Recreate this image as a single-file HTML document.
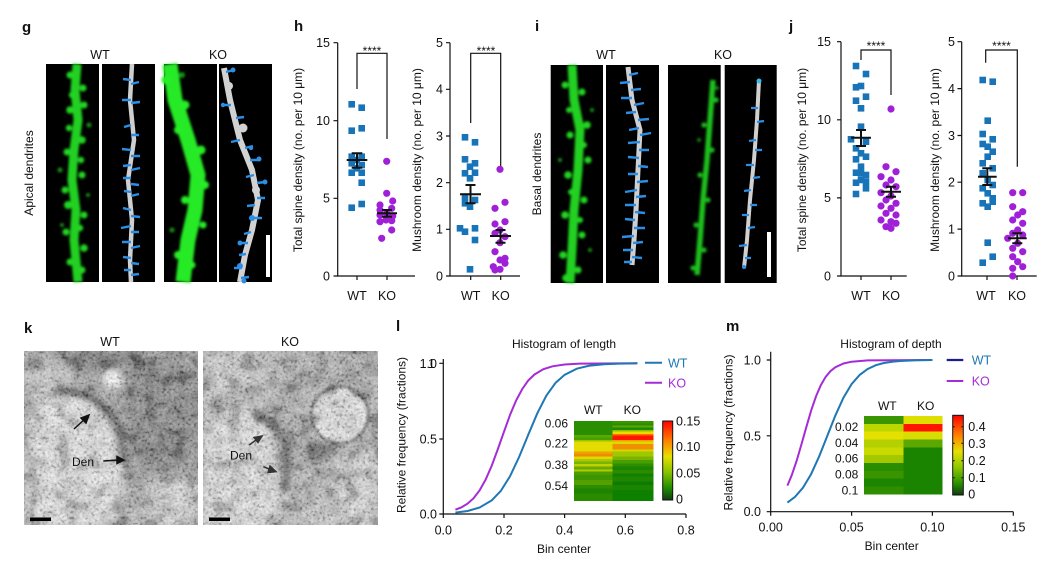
<!DOCTYPE html>
<html><head><meta charset="utf-8"><style>
html,body{margin:0;padding:0;background:#fff;}
svg{display:block;}
text{font-family:"Liberation Sans",Arial,sans-serif;fill:#111;}
</style></head><body>
<svg width="1063" height="565" viewBox="0 0 1063 565" xmlns="http://www.w3.org/2000/svg">
<defs>
<filter id="b1" x="-20%" y="-20%" width="140%" height="140%"><feGaussianBlur stdDeviation="1.2"/></filter>
<filter id="b3" x="-30%" y="-30%" width="160%" height="160%"><feGaussianBlur stdDeviation="3"/></filter>
<filter id="b6" x="-30%" y="-30%" width="160%" height="160%"><feGaussianBlur stdDeviation="6"/></filter>
<filter id="nz" x="0" y="0" width="100%" height="100%">
<feTurbulence type="fractalNoise" baseFrequency="0.35" numOctaves="2" seed="4"/>
<feColorMatrix type="matrix" values="1.2 1.2 1.2 0 -1.3  1.2 1.2 1.2 0 -1.3  1.2 1.2 1.2 0 -1.3  0 0 0 0 0.25"/>
</filter>
<filter id="nz2" x="0" y="0" width="100%" height="100%">
<feTurbulence type="fractalNoise" baseFrequency="0.07" numOctaves="2" seed="9"/>
<feColorMatrix type="matrix" values="1.5 1.5 1.5 0 -1.75  1.5 1.5 1.5 0 -1.75  1.5 1.5 1.5 0 -1.75  0 0 0 0 0.25"/>
</filter>
<clipPath id="cw"><rect x="24" y="351" width="174" height="174"/></clipPath>
<clipPath id="ck"><rect x="203" y="351" width="175" height="174"/></clipPath>
<linearGradient id="cb1" x1="0" y1="0" x2="0" y2="1">
<stop offset="0" stop-color="#ff0000"/><stop offset="0.25" stop-color="#ff8000"/><stop offset="0.45" stop-color="#e6e000"/><stop offset="0.65" stop-color="#86c200"/><stop offset="0.85" stop-color="#1e8c00"/><stop offset="1" stop-color="#123c12"/>
</linearGradient>
<linearGradient id="cb2" x1="0" y1="0" x2="0" y2="1">
<stop offset="0" stop-color="#ff0000"/><stop offset="0.25" stop-color="#ff8000"/><stop offset="0.45" stop-color="#e6e000"/><stop offset="0.65" stop-color="#90c800"/><stop offset="0.85" stop-color="#2a9400"/><stop offset="1" stop-color="#103c10"/>
</linearGradient>
</defs>

<!-- ============ Panel g ============ -->
<text x="22" y="32" font-size="15" font-weight="bold">g</text>
<text x="100" y="59" font-size="12.5" text-anchor="middle">WT</text>
<text x="218" y="59" font-size="12.5" text-anchor="middle">KO</text>
<text transform="translate(33,173) rotate(-90)" font-size="12" text-anchor="middle">Apical dendrites</text>
<rect x="46" y="64" width="53" height="218" fill="#000"/>
<rect x="102" y="64" width="53" height="218" fill="#000"/>
<rect x="164" y="64" width="53" height="218" fill="#000"/>
<rect x="219" y="64" width="53" height="218" fill="#000"/>
<g filter="url(#b1)" fill="#22d622">
<path d="M77 64 L75 90 L78 120 L74 150 L72 180 L76 210 L74 240 L78 282" stroke="#20d020" stroke-width="9" fill="none"/>
<circle cx="70" cy="75" r="3.5"/><circle cx="83" cy="88" r="3.5"/><circle cx="70" cy="110" r="3.8"/><circle cx="84" cy="105" r="3.5"/>
<circle cx="67" cy="152" r="3.5"/><circle cx="82" cy="140" r="3.8"/><circle cx="65" cy="190" r="3.5"/><circle cx="82" cy="175" r="3.5"/>
<circle cx="68" cy="205" r="4"/><circle cx="84" cy="215" r="3.5"/><circle cx="66" cy="232" r="3.5"/><circle cx="84" cy="248" r="3.8"/>
<circle cx="70" cy="262" r="3.5"/><circle cx="82" cy="270" r="3.5"/><circle cx="69" cy="128" r="3.2"/><circle cx="81" cy="160" r="3.2"/>
<circle cx="80" cy="228" r="3.2"/><circle cx="72" cy="95" r="3.2"/>
<circle cx="60" cy="170" r="2.5" fill="#159015"/><circle cx="89" cy="125" r="2.5" fill="#159015"/><circle cx="62" cy="225" r="2" fill="#159015"/><circle cx="88" cy="195" r="2" fill="#159015"/>
</g>
<path d="M132 64 L130 100 L134 140 L128 180 L132 220 L130 260 L131 282" stroke="#cfcfcf" stroke-width="4.5" fill="none"/>
<path d="M131 80 l-8 -1 M131 84 l8 -2 M131 100 l-9 0 M131 103 l9 -1 M131 125 l-7 2 M131 135 l8 0 M131 150 l-9 -1 M131 156 l9 0 M131 165 l-8 1 M131 170 l9 -2 M131 178 l-8 0 M131 184 l8 1 M131 192 l-7 -1 M131 196 l8 -2 M131 210 l-8 -2 M131 216 l9 1 M131 226 l-10 2 M131 232 l8 0 M131 242 l-9 0 M131 248 l9 -2 M131 258 l-8 -1 M131 263 l8 1 M131 270 l-7 0 M131 275 l8 -1" stroke="#2b8fe6" stroke-width="2.4" fill="none"/>
<g filter="url(#b1)" fill="#28ee28">
<path d="M170 64 L175 100 L188 140 L198 175 L195 210 L188 240 L183 282" stroke="#26ea26" stroke-width="15" fill="none"/>
<circle cx="166" cy="80" r="4.5"/><circle cx="185" cy="105" r="4.5"/><circle cx="178" cy="130" r="4"/><circle cx="201" cy="150" r="4.5"/>
<circle cx="205" cy="185" r="4"/><circle cx="185" cy="200" r="4"/><circle cx="203" cy="225" r="3.5"/><circle cx="178" cy="255" r="4"/>
<circle cx="192" cy="265" r="3.5"/><circle cx="172" cy="230" r="2.5" fill="#149014"/><circle cx="182" cy="75" r="3" fill="#149014"/>
</g>
<path d="M224 68 L230 100 L240 140 L252 170 L258 200 L252 230 L245 255 L240 282" stroke="#d2d2d2" stroke-width="6" fill="none"/>
<circle cx="229" cy="86" r="4" fill="#d2d2d2"/><circle cx="243" cy="128" r="4.5" fill="#d2d2d2"/><circle cx="256" cy="190" r="4" fill="#d2d2d2"/>
<path d="M226 72 l8 -2 M231 105 l-8 0 M236 118 l8 -1 M240 140 l-9 2 M245 148 l8 -2 M250 160 l9 0 M254 175 l-8 2 M257 183 l8 -1 M257 198 l8 0 M255 205 l-8 1 M254 218 l8 0 M251 232 l-7 2 M248 243 l-8 0 M246 254 l-7 1 M242 268 l-8 0 M241 278 l8 -1" stroke="#2b8fe6" stroke-width="2.4" fill="none"/>
<g fill="#2b8fe6"><circle cx="233" cy="70" r="2.5"/><circle cx="223" cy="105" r="2.2"/><circle cx="251" cy="148" r="2.2"/><circle cx="259" cy="159" r="2.5"/><circle cx="265" cy="182" r="2.5"/><circle cx="252" cy="218" r="3"/><circle cx="240" cy="243" r="2.5"/><circle cx="240" cy="266" r="3"/><circle cx="244" cy="281" r="2.5"/></g>
<rect x="266" y="235" width="4" height="42" fill="#fff"/>

<!-- ============ Panel h ============ -->
<text x="294" y="31" font-size="15" font-weight="bold">h</text>
<g stroke="#111" stroke-width="1.2" fill="none">
<path d="M337.7 42.7 V276 H415"/>
<path d="M333.5 42.7 H337.7 M333.5 120.7 H337.7 M333.5 198.3 H337.7 M333.5 276 H337.7"/>
<path d="M357 276 V280 M387 276 V280"/>
<path d="M357 89 V53.3 H387 V139"/>
<path d="M450 42.7 V276 H520"/>
<path d="M446 42.7 H450 M446 89.3 H450 M446 136 H450 M446 182.7 H450 M446 229.3 H450 M446 276 H450"/>
<path d="M470.7 276 V280 M500.7 276 V280"/>
<path d="M470.7 123 V53.3 H500.7 V167"/>
</g>
<g font-size="12.5" text-anchor="end">
<text x="330" y="47">15</text><text x="330" y="125">10</text><text x="330" y="202.5">5</text><text x="330" y="280.5">0</text>
<text x="443" y="47">5</text><text x="443" y="93.5">4</text><text x="443" y="140.5">3</text><text x="443" y="187">2</text><text x="443" y="233.5">1</text><text x="443" y="280.5">0</text>
</g>
<g font-size="12.5" text-anchor="middle">
<text x="357" y="300">WT</text><text x="387" y="300">KO</text>
<text x="470.7" y="300">WT</text><text x="500.7" y="300">KO</text>
</g>
<text x="372" y="55" font-size="12" text-anchor="middle">****</text>
<text x="486" y="55" font-size="12" text-anchor="middle">****</text>
<text transform="translate(302,160) rotate(-90)" font-size="12" text-anchor="middle">Total spine density (no. per 10 μm)</text>
<text transform="translate(421,160) rotate(-90)" font-size="12" text-anchor="middle">Mushroom density (no. per 10 μm)</text>
<g fill="#1874b8">
<rect x="348.4" y="101" width="6.6" height="6.6"/><rect x="358.4" y="104.4" width="6.6" height="6.6"/><rect x="348.4" y="127.4" width="6.6" height="6.6"/><rect x="358.4" y="125" width="6.6" height="6.6"/>
<rect x="348.4" y="153.4" width="6.6" height="6.6"/><rect x="358.4" y="153.4" width="6.6" height="6.6"/><rect x="348.4" y="160" width="6.6" height="6.6"/><rect x="358.4" y="161.7" width="6.6" height="6.6"/>
<rect x="348.4" y="169.4" width="6.6" height="6.6"/><rect x="358.4" y="169.4" width="6.6" height="6.6"/><rect x="358.4" y="179.4" width="6.6" height="6.6"/><rect x="348.4" y="204.4" width="6.6" height="6.6"/>
<rect x="358.4" y="200.7" width="6.6" height="6.6"/><rect x="353.4" y="156.7" width="6.6" height="6.6"/><rect x="353.4" y="165" width="6.6" height="6.6"/>
</g>
<g fill="#a020d8">
<circle cx="386.7" cy="161.3" r="3.6"/><circle cx="386.7" cy="193.3" r="3.6"/><circle cx="392.7" cy="201" r="3.6"/><circle cx="380" cy="205" r="3.6"/><circle cx="380" cy="210" r="3.6"/>
<circle cx="391.7" cy="208.3" r="3.6"/><circle cx="386.7" cy="213.3" r="3.6"/><circle cx="380" cy="215" r="3.6"/><circle cx="392.7" cy="216" r="3.6"/><circle cx="386" cy="220" r="3.6"/>
<circle cx="391.7" cy="220.7" r="3.6"/><circle cx="380" cy="221.7" r="3.6"/><circle cx="391.7" cy="230" r="3.6"/><circle cx="381.7" cy="238.3" r="3.6"/>
</g>
<g fill="#1874b8">
<rect x="461.7" y="134" width="6.6" height="6.6"/><rect x="471.7" y="139" width="6.6" height="6.6"/><rect x="461.7" y="156" width="6.6" height="6.6"/><rect x="471.7" y="160" width="6.6" height="6.6"/>
<rect x="466.7" y="163.4" width="6.6" height="6.6"/><rect x="471.7" y="169.4" width="6.6" height="6.6"/><rect x="461.7" y="170" width="6.6" height="6.6"/><rect x="466.7" y="175" width="6.6" height="6.6"/>
<rect x="461.7" y="193.4" width="6.6" height="6.6"/><rect x="471.7" y="196.7" width="6.6" height="6.6"/><rect x="461.7" y="200" width="6.6" height="6.6"/><rect x="466.7" y="203.4" width="6.6" height="6.6"/>
<rect x="456.7" y="225" width="6.6" height="6.6"/><rect x="461.7" y="228.4" width="6.6" height="6.6"/><rect x="471.7" y="225" width="6.6" height="6.6"/><rect x="471.7" y="236.7" width="6.6" height="6.6"/>
<rect x="466.7" y="266" width="6.6" height="6.6"/>
</g>
<g fill="#a020d8">
<circle cx="500" cy="169.3" r="3.6"/><circle cx="505" cy="202.3" r="3.6"/><circle cx="495" cy="208.3" r="3.6"/><circle cx="505" cy="221.7" r="3.6"/><circle cx="495" cy="224" r="3.6"/>
<circle cx="500" cy="230" r="3.6"/><circle cx="495" cy="233.3" r="3.6"/><circle cx="505" cy="236.7" r="3.6"/><circle cx="500" cy="242.7" r="3.6"/><circle cx="495" cy="251.7" r="3.6"/>
<circle cx="500" cy="260" r="3.6"/><circle cx="505" cy="263.3" r="3.6"/><circle cx="493.3" cy="266.7" r="3.6"/><circle cx="500" cy="269.3" r="3.6"/><circle cx="495" cy="270" r="3.6"/><circle cx="505" cy="258.3" r="3.6"/>
</g>
<g stroke="#111" stroke-width="2" fill="none">
<path d="M346.7 160 H367.3 M357 153.3 V167.7 M351.7 153.3 H362.3 M351.7 167.7 H362.3"/>
<path d="M377 213.3 H397 M387 210 V216.7 M382 210 H392 M382 216.7 H392"/>
<path d="M460 194.3 H481 M470.5 185 V203.3 M465.5 185 H475.5 M465.5 203.3 H475.5"/>
<path d="M490 236 H511 M500.5 230 V242.7 M495.5 230 H505.5 M495.5 242.7 H505.5"/>
</g>

<!-- ============ Panel i ============ -->
<text x="535" y="31" font-size="15" font-weight="bold">i</text>
<text x="606" y="59" font-size="12.5" text-anchor="middle">WT</text>
<text x="723" y="59" font-size="12.5" text-anchor="middle">KO</text>
<text transform="translate(541,174) rotate(-90)" font-size="12" text-anchor="middle">Basal dendrites</text>
<rect x="550.7" y="65" width="52.3" height="218" fill="#000"/>
<rect x="606" y="65" width="53" height="218" fill="#000"/>
<rect x="668" y="65" width="52.7" height="218" fill="#000"/>
<rect x="724.7" y="65" width="52" height="218" fill="#000"/>
<g filter="url(#b1)" fill="#22d622">
<path d="M572 65 L574 100 L580 130 L578 170 L574 210 L572 250 L570 283" stroke="#20d020" stroke-width="9" fill="none"/>
<circle cx="565" cy="85" r="3.5"/><circle cx="582" cy="92" r="3.5"/><circle cx="587" cy="125" r="3.8"/><circle cx="570" cy="135" r="3.5"/>
<circle cx="588" cy="160" r="3.5"/><circle cx="568" cy="175" r="3.8"/><circle cx="584" cy="200" r="3.5"/><circle cx="565" cy="215" r="3.8"/>
<circle cx="582" cy="235" r="3.5"/><circle cx="563" cy="255" r="3.8"/><circle cx="578" cy="270" r="3.5"/><circle cx="566" cy="278" r="3.8"/>
<circle cx="569" cy="110" r="3"/><circle cx="584" cy="145" r="3"/><circle cx="571" cy="192" r="3"/><circle cx="580" cy="220" r="3"/>
<circle cx="592" cy="110" r="2" fill="#159015"/><circle cx="560" cy="160" r="2" fill="#159015"/><circle cx="590" cy="250" r="2" fill="#159015"/>
</g>
<path d="M628 67 L632 100 L640 130 L638 170 L636 210 L634 240 L632 265" stroke="#d0d0d0" stroke-width="5" fill="none"/>
<path d="M629 75 l9 -2 M630 82 l-10 1 M631 90 l10 -1 M632 98 l-11 0 M634 105 l10 -2 M636 112 l-10 1 M638 120 l11 -1 M639 128 l-10 2 M640 135 l11 -2 M640 142 l-12 1 M639 150 l10 0 M639 158 l-11 -1 M638 166 l10 1 M638 174 l-10 0 M637 182 l11 -1 M637 190 l-12 2 M636 197 l10 -1 M636 205 l-11 0 M635 212 l10 1 M635 220 l-10 -1 M634 228 l11 0 M634 236 l-12 1 M633 243 l10 -1 M633 250 l-10 0 M632 257 l10 1 M632 262 l-8 0" stroke="#2b8fe6" stroke-width="2.4" fill="none"/>
<g filter="url(#b1)" fill="#1cbc1c">
<path d="M713 80 L710 120 L707 160 L703 200 L700 240 L697 275" stroke="#1cc01c" stroke-width="5.5" fill="none"/>
<circle cx="716" cy="100" r="2.6"/><circle cx="704" cy="125" r="2.6"/><circle cx="712" cy="150" r="2.6"/><circle cx="700" cy="175" r="2.6"/>
<circle cx="708" cy="200" r="2.6"/><circle cx="696" cy="225" r="2.6"/><circle cx="704" cy="250" r="2.6"/><circle cx="693" cy="268" r="2.6"/>
<circle cx="717" cy="88" r="2" fill="#128012"/><circle cx="699" cy="140" r="2" fill="#128012"/>
</g>
<path d="M759 80 L757 120 L754 160 L750 200 L747 240 L744 268" stroke="#d0d0d0" stroke-width="4" fill="none"/>
<path d="M758 108 l-7 0 M757 122 l7 -1 M756 140 l-7 1 M755 150 l7 0 M754 165 l-8 0 M753 178 l7 -1 M751 190 l-7 1 M750 205 l7 0 M749 215 l-7 0 M748 228 l7 -1 M747 245 l-8 1 M745 258 l6 0" stroke="#2b8fe6" stroke-width="2.2" fill="none"/>
<circle cx="759" cy="81" r="2.5" fill="#3ab8f0"/><circle cx="744" cy="267" r="2" fill="#2b8fe6"/>
<rect x="767" y="232" width="4" height="45" fill="#fff"/>

<!-- ============ Panel j ============ -->
<text x="789" y="31" font-size="15" font-weight="bold">j</text>
<g stroke="#111" stroke-width="1.2" fill="none">
<path d="M841 41.7 V276 H906.7"/>
<path d="M837 41.7 H841 M837 119.8 H841 M837 197.9 H841 M837 276 H841"/>
<path d="M861 276 V280 M891 276 V280"/>
<path d="M861 60 V50 H891 V95"/>
<path d="M961.7 41.7 V276 H1036.7"/>
<path d="M957.5 41.7 H961.7 M957.5 88.6 H961.7 M957.5 135.5 H961.7 M957.5 182.2 H961.7 M957.5 229.1 H961.7 M957.5 276 H961.7"/>
<path d="M987 276 V280 M1017 276 V280"/>
<path d="M985.7 62.7 V50 H1017.3 V166.7"/>
</g>
<g font-size="12.5" text-anchor="end">
<text x="831" y="46">15</text><text x="831" y="124">10</text><text x="831" y="202">5</text><text x="831" y="280.5">0</text>
<text x="955" y="46">5</text><text x="955" y="93">4</text><text x="955" y="140">3</text><text x="955" y="186.5">2</text><text x="955" y="233.5">1</text><text x="955" y="280.5">0</text>
</g>
<g font-size="12.5" text-anchor="middle">
<text x="861" y="300">WT</text><text x="891" y="300">KO</text>
<text x="986" y="300">WT</text><text x="1017" y="300">KO</text>
</g>
<text x="876" y="50" font-size="12" text-anchor="middle">****</text>
<text x="1001.5" y="50" font-size="12" text-anchor="middle">****</text>
<text transform="translate(806,160) rotate(-90)" font-size="12" text-anchor="middle">Total spine density (no. per 10 μm)</text>
<text transform="translate(939,160) rotate(-90)" font-size="12" text-anchor="middle">Mushroom density (no. per 10 μm)</text>
<g fill="#1874b8">
<rect x="852.7" y="62.7" width="6.6" height="6.6"/><rect x="862.7" y="70.7" width="6.6" height="6.6"/><rect x="852.7" y="84" width="6.6" height="6.6"/><rect x="857.7" y="82.7" width="6.6" height="6.6"/>
<rect x="862.7" y="93.4" width="6.6" height="6.6"/><rect x="852.7" y="97.4" width="6.6" height="6.6"/><rect x="857.7" y="105" width="6.6" height="6.6"/><rect x="857.7" y="123.4" width="6.6" height="6.6"/>
<rect x="847.7" y="136" width="6.6" height="6.6"/><rect x="862.7" y="138.4" width="6.6" height="6.6"/><rect x="852.7" y="145" width="6.6" height="6.6"/><rect x="857.7" y="150" width="6.6" height="6.6"/>
<rect x="862.7" y="153.4" width="6.6" height="6.6"/><rect x="852.7" y="156" width="6.6" height="6.6"/><rect x="857.7" y="163.4" width="6.6" height="6.6"/><rect x="852.7" y="169.4" width="6.6" height="6.6"/>
<rect x="862.7" y="171.7" width="6.6" height="6.6"/><rect x="857.7" y="176.7" width="6.6" height="6.6"/><rect x="852.7" y="179.4" width="6.6" height="6.6"/><rect x="862.7" y="178.4" width="6.6" height="6.6"/>
<rect x="862.7" y="185" width="6.6" height="6.6"/><rect x="852.7" y="190.7" width="6.6" height="6.6"/><rect x="857.7" y="170" width="6.6" height="6.6"/>
</g>
<g fill="#a020d8">
<circle cx="891" cy="109" r="3.6"/><circle cx="886" cy="166.7" r="3.6"/><circle cx="896" cy="171.7" r="3.6"/><circle cx="881" cy="176.7" r="3.6"/><circle cx="891" cy="180" r="3.6"/>
<circle cx="886" cy="185" r="3.6"/><circle cx="896" cy="186.7" r="3.6"/><circle cx="881" cy="192.7" r="3.6"/><circle cx="891" cy="196" r="3.6"/><circle cx="886" cy="200" r="3.6"/>
<circle cx="896" cy="203.3" r="3.6"/><circle cx="881" cy="206" r="3.6"/><circle cx="891" cy="208.3" r="3.6"/><circle cx="886" cy="213.3" r="3.6"/><circle cx="896" cy="215" r="3.6"/>
<circle cx="881" cy="220" r="3.6"/><circle cx="891" cy="221.7" r="3.6"/><circle cx="886" cy="226.7" r="3.6"/><circle cx="896" cy="223.3" r="3.6"/><circle cx="891" cy="228.3" r="3.6"/>
</g>
<g fill="#1874b8">
<rect x="979.4" y="76.7" width="6.6" height="6.6"/><rect x="989.4" y="78.4" width="6.6" height="6.6"/><rect x="984.4" y="117.4" width="6.6" height="6.6"/><rect x="979.4" y="130.7" width="6.6" height="6.6"/>
<rect x="989.4" y="136" width="6.6" height="6.6"/><rect x="979.4" y="140.7" width="6.6" height="6.6"/><rect x="984.4" y="143.4" width="6.6" height="6.6"/><rect x="989.4" y="148.4" width="6.6" height="6.6"/>
<rect x="984.4" y="153.4" width="6.6" height="6.6"/><rect x="979.4" y="160" width="6.6" height="6.6"/><rect x="989.4" y="165" width="6.6" height="6.6"/><rect x="979.4" y="170" width="6.6" height="6.6"/>
<rect x="984.4" y="176.7" width="6.6" height="6.6"/><rect x="989.4" y="181.7" width="6.6" height="6.6"/><rect x="979.4" y="185" width="6.6" height="6.6"/><rect x="984.4" y="190" width="6.6" height="6.6"/>
<rect x="989.4" y="195" width="6.6" height="6.6"/><rect x="979.4" y="200" width="6.6" height="6.6"/><rect x="984.4" y="203.4" width="6.6" height="6.6"/><rect x="989.4" y="198.4" width="6.6" height="6.6"/>
<rect x="984.4" y="239.4" width="6.6" height="6.6"/><rect x="989.4" y="253.4" width="6.6" height="6.6"/><rect x="979.4" y="259.4" width="6.6" height="6.6"/>
</g>
<g fill="#a020d8">
<circle cx="1012.7" cy="192.7" r="3.6"/><circle cx="1022.7" cy="192.7" r="3.6"/><circle cx="1012.7" cy="206.7" r="3.6"/><circle cx="1022.7" cy="211.7" r="3.6"/><circle cx="1017.7" cy="215" r="3.6"/>
<circle cx="1012.7" cy="220" r="3.6"/><circle cx="1022.7" cy="223.3" r="3.6"/><circle cx="1017.7" cy="230" r="3.6"/><circle cx="1012.7" cy="233.3" r="3.6"/><circle cx="1022.7" cy="235" r="3.6"/>
<circle cx="1007.7" cy="238.3" r="3.6"/><circle cx="1017.7" cy="243.3" r="3.6"/><circle cx="1012.7" cy="248.3" r="3.6"/><circle cx="1022.7" cy="251.7" r="3.6"/><circle cx="1012.7" cy="256.7" r="3.6"/>
<circle cx="1017.7" cy="261.7" r="3.6"/><circle cx="1022.7" cy="266.7" r="3.6"/><circle cx="1012.7" cy="268.3" r="3.6"/><circle cx="1012.7" cy="276" r="3.6"/>
</g>
<g stroke="#111" stroke-width="2" fill="none">
<path d="M851 137.7 H871 M861 130 V146 M856 130 H866 M856 146 H866"/>
<path d="M881 191.7 H901 M891 186.7 V196.7 M886 186.7 H896 M886 196.7 H896"/>
<path d="M978 176.7 H996.7 M987.3 168.3 V185 M982.3 168.3 H992.3 M982.3 185 H992.3"/>
<path d="M1008 238.3 H1026.7 M1017.3 233.3 V243.3 M1012.3 233.3 H1022.3 M1012.3 243.3 H1022.3"/>
</g>

<!-- ============ Panel k ============ -->
<text x="24" y="333" font-size="15" font-weight="bold">k</text>
<text x="110" y="346" font-size="12.5" text-anchor="middle">WT</text>
<text x="290" y="346" font-size="12.5" text-anchor="middle">KO</text>
<g clip-path="url(#cw)">
<rect x="24" y="351" width="174" height="174" fill="#929292"/>
<g filter="url(#b6)">
<rect x="24" y="360" width="50" height="40" fill="#b8b8b8"/>
<ellipse cx="165" cy="415" rx="42" ry="62" fill="#6c6c6c"/>
<path d="M60 352 L150 352 L140 366 L70 366 Z" fill="#444"/>
<path d="M30 420 L45 395 L70 388 L95 400 L115 430 L125 470 L122 500 L110 530 L24 530 L24 440 Z" fill="#e0e0e0"/>
<rect x="150" y="478" width="50" height="50" fill="#cecece"/>
<rect x="125" y="505" width="30" height="25" fill="#b4b4b4"/>
</g>
<g filter="url(#b3)">
<ellipse cx="112" cy="380" rx="9" ry="12" fill="#f0f0f0"/>
<path d="M52 392 Q95 385 118 425 L128 470" stroke="#262626" stroke-width="7" fill="none"/>
<path d="M24 440 Q40 470 30 525" stroke="#6a6a6a" stroke-width="3" fill="none"/>
<path d="M60 480 Q80 500 70 525" stroke="#8a8a8a" stroke-width="3" fill="none"/>
</g>
<rect x="24" y="351" width="174" height="174" filter="url(#nz2)"/>
<rect x="24" y="351" width="174" height="174" filter="url(#nz)"/>
</g>
<g clip-path="url(#ck)">
<rect x="203" y="351" width="175" height="174" fill="#a0a0a0"/>
<g filter="url(#b6)">
<rect x="203" y="351" width="70" height="50" fill="#c0c0c0"/>
<path d="M210 420 L235 405 L255 410 L275 440 L285 480 L280 510 L260 530 L203 530 L203 440 Z" fill="#dcdcdc"/>
<rect x="332" y="455" width="50" height="75" fill="#cccccc"/>
<rect x="280" y="500" width="50" height="30" fill="#bcbcbc"/>
</g>
<circle cx="340" cy="415" r="28" fill="#e4e4e4" stroke="#3c3c3c" stroke-width="3" filter="url(#b1)"/>
<g filter="url(#b3)">
<circle cx="318" cy="452" r="11" fill="#404040"/>
<path d="M252 412 Q286 425 288 462 L284 492" stroke="#222" stroke-width="7" fill="none"/>
<path d="M210 400 Q260 385 310 385 Q340 375 378 372" stroke="#606060" stroke-width="3" fill="none"/>
<path d="M325 470 Q345 480 378 470" stroke="#6a6a6a" stroke-width="2.5" fill="none"/>
</g>
<rect x="203" y="351" width="175" height="174" filter="url(#nz2)"/>
<rect x="203" y="351" width="175" height="174" filter="url(#nz)"/>
</g>
<text x="72" y="466" font-size="12" fill="#111">Den</text>
<text x="230" y="459.5" font-size="12" fill="#111">Den</text>
<g stroke="#111" stroke-width="1.5" fill="#111">
<path d="M74 429 L86 418" fill="none"/><path d="M89 415 L81 418 L86 423 Z"/>
<path d="M103.3 461 L119 460" fill="none"/><path d="M124 460 L117 456.5 L117 463.5 Z"/>
</g>
<g stroke="#333" stroke-width="1.5" fill="#333">
<path d="M249.3 445 L258 438.5" fill="none"/><path d="M262 436 L254 437.5 L258 442.5 Z"/>
<path d="M263.3 466.7 L271 469.7" fill="none"/><path d="M276 471.7 L270 466 L268 472.5 Z"/>
</g>
<rect x="30" y="517.5" width="21" height="3.5" fill="#000"/>
<rect x="209" y="517.5" width="21" height="3.5" fill="#000"/>

<!-- ============ Panel l ============ -->
<text x="396" y="331" font-size="15" font-weight="bold">l</text>
<text x="564" y="348" font-size="12" text-anchor="middle">Histogram of length</text>
<g stroke="#111" stroke-width="1.2" fill="none">
<path d="M443.3 359 V514 H686"/>
<path d="M439.3 363.3 H443.3 M439.3 439 H443.3 M439.3 514 H443.3"/>
<path d="M443.3 514 V518 M504 514 V518 M564.6 514 V518 M625.3 514 V518 M686 514 V518"/>
</g>
<g font-size="12.5" text-anchor="end">
<text x="437" y="368">1.0</text><text x="435" y="368">1</text><text x="437" y="443.5">0.5</text><text x="437" y="518.5">0.0</text>
</g>
<g font-size="12.5" text-anchor="middle">
<text x="443.3" y="534.5">0.0</text><text x="504" y="534.5">0.2</text><text x="564.6" y="534.5">0.4</text><text x="625.3" y="534.5">0.6</text><text x="686" y="534.5">0.8</text>
</g>
<text x="564" y="553" font-size="12" text-anchor="middle">Bin center</text>
<text transform="translate(405.5,435) rotate(-90)" font-size="12" text-anchor="middle">Relative frequency (fractions)</text>
<polyline fill="none" stroke="#a52bd8" stroke-width="2" points="455.4,509.7 461.5,507.3 467.6,503.6 473.6,498.2 479.7,490.2 485.8,479.3 491.8,465.5 497.9,449 504,431.7 510,415 516.1,400.5 522.2,389.1 528.2,380.5 534.3,374.6 543.4,369.2 552.5,366.3 564.6,364.5 579.8,363.6 637.4,363.3"/>
<polyline fill="none" stroke="#1f77b4" stroke-width="2" points="455.4,512.6 467.6,511 479.7,507.5 491.8,500.3 500.9,490.8 510,476.3 519.1,457 528.2,434.9 537.3,413.3 546.4,395.5 555.5,382.9 564.6,374.8 576.8,368.7 588.9,365.8 604,364.2 619.2,363.6 637.4,363.3"/>
<path d="M645 362.7 H662" stroke="#1f77b4" stroke-width="2"/>
<text x="668" y="367.5" font-size="12.5" style="fill:#1f77b4">WT</text>
<path d="M645 382.7 H662" stroke="#a52bd8" stroke-width="2"/>
<text x="668" y="387.5" font-size="12.5" style="fill:#a52bd8">KO</text>
<text x="593.3" y="414" font-size="12" text-anchor="middle">WT</text>
<text x="632.3" y="414" font-size="12" text-anchor="middle">KO</text>
<g font-size="12" text-anchor="end">
<text x="568" y="427.5">0.06</text><text x="568" y="447.5">0.22</text><text x="568" y="469">0.38</text><text x="568" y="490">0.54</text>
</g>
<g shape-rendering="crispEdges">
<rect x="574" y="421" width="38.7" height="14" fill="#2a8f00"/>
<rect x="574" y="435" width="38.7" height="2.3" fill="#5aa800"/>
<rect x="574" y="437.3" width="38.7" height="2.7" fill="#4a9f00"/>
<rect x="574" y="440" width="38.7" height="1.7" fill="#9ac400"/>
<rect x="574" y="441.7" width="38.7" height="10" fill="#e4dc00"/>
<rect x="574" y="451.7" width="38.7" height="2.3" fill="#f0a000"/>
<rect x="574" y="454" width="38.7" height="2.7" fill="#ee8a00"/>
<rect x="574" y="456.7" width="38.7" height="2.3" fill="#e0d800"/>
<rect x="574" y="459" width="38.7" height="2.7" fill="#a8c800"/>
<rect x="574" y="461.7" width="38.7" height="2.3" fill="#7ab400"/>
<rect x="574" y="464" width="38.7" height="2.7" fill="#c0d000"/>
<rect x="574" y="466.7" width="38.7" height="2.6" fill="#6aaa00"/>
<rect x="574" y="469.3" width="38.7" height="2.4" fill="#b0cc00"/>
<rect x="574" y="471.7" width="38.7" height="3.3" fill="#4a9c00"/>
<rect x="574" y="475" width="38.7" height="5" fill="#3d9500"/>
<rect x="574" y="480" width="38.7" height="5" fill="#55a000"/>
<rect x="574" y="485" width="38.7" height="3.3" fill="#2e8c00"/>
<rect x="574" y="488.3" width="38.7" height="5" fill="#1e8400"/>
<rect x="574" y="493.3" width="38.7" height="7.7" fill="#2a8a00"/>
<rect x="612.7" y="421" width="40.6" height="2.3" fill="#3a9600"/>
<rect x="612.7" y="423.3" width="40.6" height="2.4" fill="#2a8c00"/>
<rect x="612.7" y="425.7" width="40.6" height="1.6" fill="#5aa800"/>
<rect x="612.7" y="427.3" width="40.6" height="2.7" fill="#1e8800"/>
<rect x="612.7" y="430" width="40.6" height="1.7" fill="#90c000"/>
<rect x="612.7" y="431.7" width="40.6" height="2.3" fill="#e6dc00"/>
<rect x="612.7" y="434" width="40.6" height="1.7" fill="#ff7000"/>
<rect x="612.7" y="435.7" width="40.6" height="4.3" fill="#ff1500"/>
<rect x="612.7" y="440" width="40.6" height="1.7" fill="#f4a000"/>
<rect x="612.7" y="441.7" width="40.6" height="2.3" fill="#e0d800"/>
<rect x="612.7" y="444" width="40.6" height="5.3" fill="#f09000"/>
<rect x="612.7" y="449.3" width="40.6" height="2.4" fill="#d8d400"/>
<rect x="612.7" y="451.7" width="40.6" height="5" fill="#a0c800"/>
<rect x="612.7" y="456.7" width="40.6" height="3.3" fill="#7ab400"/>
<rect x="612.7" y="460" width="40.6" height="3.3" fill="#48a000"/>
<rect x="612.7" y="463.3" width="40.6" height="3.4" fill="#2e8e00"/>
<rect x="612.7" y="466.7" width="40.6" height="3.3" fill="#1a8400"/>
<rect x="612.7" y="470" width="40.6" height="3.3" fill="#2c8c00"/>
<rect x="612.7" y="473.3" width="40.6" height="3.4" fill="#108000"/>
<rect x="612.7" y="476.7" width="40.6" height="5" fill="#208600"/>
<rect x="612.7" y="481.7" width="40.6" height="3.3" fill="#0c7c00"/>
<rect x="612.7" y="485" width="40.6" height="5" fill="#1c8400"/>
<rect x="612.7" y="490" width="40.6" height="11" fill="#0e8000"/>
</g>
<rect x="662.7" y="421" width="10" height="79" fill="url(#cb1)" stroke="#111" stroke-width="1"/>
<g font-size="12.5">
<text x="676" y="425.5">0.15</text><text x="676" y="451">0.10</text><text x="676" y="477.5">0.05</text><text x="676" y="503.5">0</text>
</g>

<!-- ============ Panel m ============ -->
<text x="726" y="331" font-size="15" font-weight="bold">m</text>
<text x="891" y="348" font-size="12" text-anchor="middle">Histogram of depth</text>
<g stroke="#111" stroke-width="1.2" fill="none">
<path d="M770.7 351.7 V511.7 H1013.3"/>
<path d="M766.7 360 H770.7 M766.7 435.8 H770.7 M766.7 511.7 H770.7"/>
<path d="M770.7 511.7 V515.7 M851.6 511.7 V515.7 M932.4 511.7 V515.7 M1013.3 511.7 V515.7"/>
</g>
<g font-size="12.5" text-anchor="end">
<text x="761" y="364.5">1.0</text><text x="761" y="440.3">0.5</text><text x="761" y="516">0.0</text>
</g>
<g font-size="12.5" text-anchor="middle">
<text x="770.7" y="531.5">0.00</text><text x="851.6" y="531.5">0.05</text><text x="932.4" y="531.5">0.10</text><text x="1013.3" y="531.5">0.15</text>
</g>
<text x="891.7" y="550" font-size="12" text-anchor="middle">Bin center</text>
<text transform="translate(732.5,432.5) rotate(-90)" font-size="12" text-anchor="middle">Relative frequency (fractions)</text>
<polyline fill="none" stroke="#a52bd8" stroke-width="2" points="787.4,485.6 791.7,475.3 796.6,461 801.4,444.5 806.3,427.2 811.1,410.7 816,396.4 820.8,385.2 825.7,376.8 830.5,371.1 835.4,367.2 843.5,363.5 851.6,361.7 867.7,360.4 932.4,360"/>
<polyline fill="none" stroke="#1f77b4" stroke-width="2" points="787.4,502.6 795,496.9 803,487.6 811.1,474.1 819.2,456.3 827.3,435.9 835.4,415.4 843.5,397.6 851.6,384.1 859.7,374.9 867.7,369 875.8,365.2 883.9,363 892,361.8 900.1,361 916.2,360.3 932.4,360"/>
<path d="M946.7 360 H963.3" stroke="#1c1c8c" stroke-width="2.2"/>
<text x="971.7" y="364.5" font-size="12.5" style="fill:#1f77b4">WT</text>
<path d="M946.7 381 H963.3" stroke="#a52bd8" stroke-width="2"/>
<text x="971.7" y="385.5" font-size="12.5" style="fill:#a52bd8">KO</text>
<text x="887.3" y="410" font-size="12" text-anchor="middle">WT</text>
<text x="925.7" y="410" font-size="12" text-anchor="middle">KO</text>
<g font-size="12" text-anchor="end">
<text x="858.3" y="431">0.02</text><text x="858.3" y="447">0.04</text><text x="858.3" y="462.5">0.06</text><text x="858.3" y="478.5">0.08</text><text x="858.3" y="494.5">0.1</text>
</g>
<g shape-rendering="crispEdges">
<rect x="864" y="416" width="39.3" height="7.9" fill="#3a9600"/>
<rect x="864" y="423.9" width="39.3" height="7.8" fill="#bcd600"/>
<rect x="864" y="431.7" width="39.3" height="7.8" fill="#e4e000"/>
<rect x="864" y="439.5" width="39.3" height="7.8" fill="#b4d000"/>
<rect x="864" y="447.3" width="39.3" height="7.8" fill="#c8da00"/>
<rect x="864" y="455.1" width="39.3" height="7.8" fill="#a4c800"/>
<rect x="864" y="462.9" width="39.3" height="7.9" fill="#2a8c00"/>
<rect x="864" y="470.8" width="39.3" height="7.8" fill="#3a9400"/>
<rect x="864" y="478.6" width="39.3" height="7.9" fill="#1c8400"/>
<rect x="864" y="486.5" width="39.3" height="7.8" fill="#2e8e00"/>
<rect x="903.3" y="416" width="39.4" height="7.9" fill="#dede00"/>
<rect x="903.3" y="423.9" width="39.4" height="7.8" fill="#ff1400"/>
<rect x="903.3" y="431.7" width="39.4" height="7.8" fill="#d8dc00"/>
<rect x="903.3" y="439.5" width="39.4" height="7.8" fill="#5aa800"/>
<rect x="903.3" y="447.3" width="39.4" height="47" fill="#1a8400"/>
</g>
<rect x="952.7" y="415.3" width="10.6" height="79.7" fill="url(#cb2)" stroke="#111" stroke-width="1"/>
<g stroke="#111" stroke-width="1"><path d="M952.7 426.7 h2 M961.3 426.7 h2 M952.7 443.3 h2 M961.3 443.3 h2 M952.7 460.7 h2 M961.3 460.7 h2 M952.7 477.7 h2 M961.3 477.7 h2"/></g>
<g font-size="12.5">
<text x="968.3" y="431">0.4</text><text x="968.3" y="447.8">0.3</text><text x="968.3" y="465">0.2</text><text x="968.3" y="482">0.1</text><text x="968.3" y="498.5">0</text>
</g>
</svg>
</body></html>
